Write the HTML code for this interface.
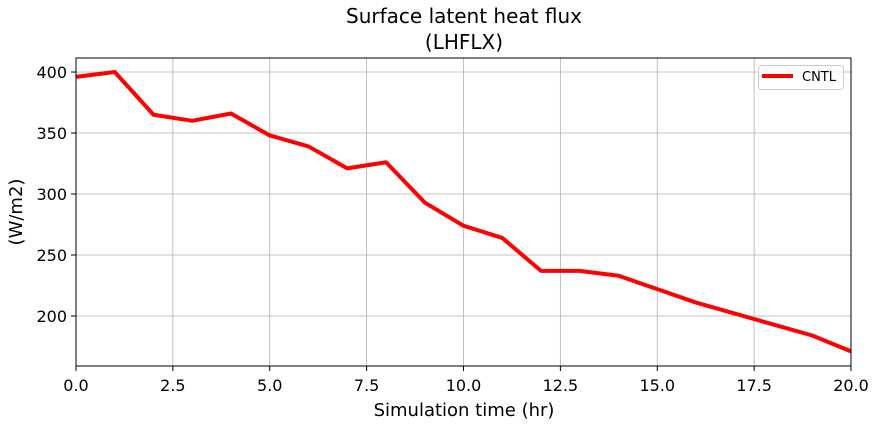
<!DOCTYPE html>
<html><head><meta charset="utf-8"><style>
body{margin:0;background:#fff;}
text{font-family:"DejaVu Sans","Liberation Sans",sans-serif;fill:#000;}
</style></head><body>
<svg id="chart" width="878" height="424" xmlns="http://www.w3.org/2000/svg">
<g id="grid"></g>
<g id="ticks"></g>
<polyline id="line" fill="none" stroke="#ff0000" stroke-width="4" stroke-linejoin="round"/>
<rect x="76" y="58" width="775" height="308" fill="none" stroke="#000" stroke-width="1"/>
<text x="464" y="23" font-size="20" text-anchor="middle">Surface latent heat flux</text>
<text x="464" y="49" font-size="20" text-anchor="middle">(LHFLX)</text>
<text x="464" y="416" font-size="18" text-anchor="middle">Simulation time (hr)</text>
<text x="22" y="212" font-size="18" text-anchor="middle" transform="rotate(-90 22 212)">(W/m2)</text>
<g>
<rect x="758.5" y="65.5" width="85" height="24" rx="3" fill="#fff" fill-opacity="0.8" stroke="#ccc"/>
<line x1="762" y1="76" x2="793" y2="76" stroke="#ff0000" stroke-width="4"/>
<text x="802" y="81" font-size="13">CNTL</text>
</g>
</svg>
<script>
const hours=[0,1,2,3,4,5,6,7,8,9,10,11,12,13,14,15,16,17,18,19,20];
const lhflx=[396,400,365,360,366,348,339,321,326,293,274,264,237,237,233,222,211,202,193,184,171];
const xTicks=[0,2.5,5,7.5,10,12.5,15,17.5,20];
const xTickLabels=["0.0","2.5","5.0","7.5","10.0","12.5","15.0","17.5","20.0"];
const yTicks=[200,250,300,350,400];
const yTickLabels=["200","250","300","350","400"];
const X0=76,X1=851,Y0=366,Y1=58,xmin=0,xmax=20,ymin=159,ymax=411.5;
const sx=v=>X0+(v-xmin)/(xmax-xmin)*(X1-X0);
const sy=v=>Y0-(v-ymin)/(ymax-ymin)*(Y0-Y1);
const NS="http://www.w3.org/2000/svg";
const grid=document.getElementById('grid'),ticks=document.getElementById('ticks');
function mk(t,a,p){const e=document.createElementNS(NS,t);for(const k in a)e.setAttribute(k,a[k]);p.appendChild(e);return e;}
xTicks.forEach((v,i)=>{const x=sx(v);
const g=mk('line',{x1:x,x2:x,y1:Y1,y2:Y0,stroke:'#b0b0b0','stroke-width':0.8},grid);


const t=mk('line',{x1:x,x2:x,y1:Y0,y2:Y0+5,stroke:'#000'},ticks);


const l=mk('text',{x:x,y:Y0+25,'font-size':16,'text-anchor':'middle'},ticks);l.textContent=xTickLabels[i];

});
yTicks.forEach((v,i)=>{const y=sy(v);
const g=mk('line',{x1:X0,x2:X1,y1:y,y2:y,stroke:'#b0b0b0','stroke-width':0.8},grid);


const t=mk('line',{x1:X0-5,x2:X0,y1:y,y2:y,stroke:'#000'},ticks);


const l=mk('text',{x:X0-9,y:y+6,'font-size':16,'text-anchor':'end'},ticks);l.textContent=yTickLabels[i];

});
document.getElementById('line').setAttribute('points',hours.map((h,i)=>sx(h)+','+sy(lhflx[i])).join(' '));
</script>
</body></html>
